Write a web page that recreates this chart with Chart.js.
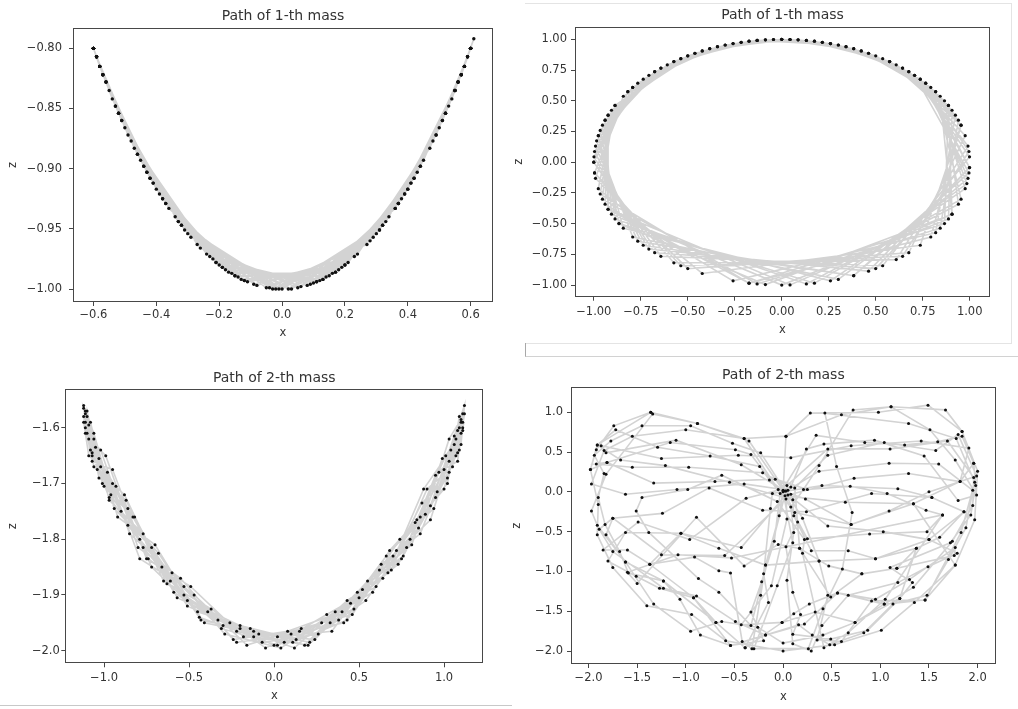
<!DOCTYPE html>
<html>
<head>
<meta charset="utf-8">
<script src="https://cdn.jsdelivr.net/npm/chart.js@4.4.1/dist/chart.umd.min.js"></script>
<style>
  body { margin: 0; background: #fff; width: 1018px; height: 709px; position: relative; overflow: hidden; }
  canvas { position: absolute; }
  .rule { position: absolute; box-sizing: border-box; }
</style>
</head>
<body>
<div class="rule" style="left:525px;top:3px;width:487px;height:341px;border-top:1px solid #e4e4e4;border-right:1px solid #e4e4e4;border-bottom:1px solid #e4e4e4;"></div>
<div class="rule" style="left:525px;top:343px;width:493px;height:14px;border-left:1px solid #a8a8a8;border-bottom:1px solid #d2d2d2;"></div>
<div class="rule" style="left:0;top:705px;width:512px;height:1px;background:#c8c8c8;"></div>

<canvas id="pathSmall1" width="509" height="345" style="left:0;top:0"></canvas>
<canvas id="pathWild1" width="509" height="350" style="left:509px;top:0"></canvas>
<canvas id="pathSmall2" width="509" height="350" style="left:0;top:355px"></canvas>
<canvas id="pathWild2" width="509" height="350" style="left:509px;top:355px"></canvas>

<script>
// [x, z] positions, in path order

// top left: mass 1, small swings
var small1Path = [
  [-0.60,-0.800],[-0.52,-0.854],[-0.32,-0.947],[0.00,-1.000],[0.32,-0.947],[0.52,-0.854],[0.60,-0.800],
  [0.56,-0.828],[0.40,-0.917],[0.16,-0.987],[-0.16,-0.987],[-0.42,-0.908],[-0.58,-0.815],
  [-0.59,-0.807],[-0.46,-0.888],[-0.20,-0.980],[0.12,-0.993],[0.38,-0.925],[0.55,-0.835],
  [0.59,-0.807],[0.50,-0.866],[0.28,-0.960],[-0.04,-0.999],[-0.34,-0.940],[-0.53,-0.848],[-0.60,-0.800],
  [-0.57,-0.822],[-0.44,-0.898],[-0.18,-0.984],[0.14,-0.990],[0.40,-0.917],[0.57,-0.822],
  [0.60,-0.800],[0.48,-0.877],[0.24,-0.971],[-0.08,-0.997],[-0.36,-0.933],[-0.54,-0.842],
  [-0.60,-0.800],[-0.50,-0.866],[-0.26,-0.966],[0.06,-0.998],[0.34,-0.940],[0.54,-0.842],[0.61,-0.792],
  [0.58,-0.815],[0.42,-0.908],[0.18,-0.984],[-0.14,-0.990],[-0.40,-0.917],[-0.58,-0.815],
  [-0.59,-0.807],[-0.48,-0.877],[-0.22,-0.975],[0.10,-0.995],[0.36,-0.933],[0.56,-0.828],
  [0.60,-0.800],[0.51,-0.860],[0.30,-0.954],[-0.02,-1.000],[-0.32,-0.947],[-0.51,-0.860],[-0.60,-0.800],
  [-0.56,-0.828],[-0.38,-0.925],[-0.12,-0.993],[0.20,-0.980],[0.44,-0.898],[0.58,-0.815],
  [0.59,-0.807],[0.45,-0.893],[0.20,-0.980],[-0.12,-0.993],[-0.38,-0.925],[-0.56,-0.828],
  [-0.60,-0.800],[-0.52,-0.854],[-0.30,-0.954],[0.02,-1.000],[0.32,-0.947],[0.52,-0.854],[0.60,-0.800],
  [0.55,-0.835],[0.36,-0.933],[0.08,-0.997],[-0.24,-0.971],[-0.46,-0.888],[-0.59,-0.807],
  [-0.58,-0.815],[-0.42,-0.908],[-0.15,-0.989],[0.17,-0.986],[0.42,-0.908],[0.58,-0.815],
  [0.57,-0.822],[0.43,-0.903],[0.19,-0.982],[-0.13,-0.992],[-0.39,-0.921],[-0.57,-0.822],
  [-0.60,-0.800],[-0.49,-0.872],[-0.27,-0.963],[0.05,-0.999],[0.33,-0.944],[0.53,-0.848],[0.60,-0.800],
  [0.57,-0.822],[0.41,-0.912],[0.17,-0.986],[-0.15,-0.989],[-0.41,-0.912],[-0.57,-0.822],
  [-0.59,-0.807],[-0.47,-0.883],[-0.23,-0.973],[0.09,-0.996],[0.37,-0.929],[0.55,-0.835],
  [0.60,-0.800],[0.49,-0.872],[0.27,-0.963],[-0.05,-0.999],[-0.33,-0.944],[-0.53,-0.848],[-0.60,-0.800],
  [-0.57,-0.822],[-0.43,-0.903],[-0.19,-0.982],[0.13,-0.992],[0.39,-0.921],[0.57,-0.822],
  [0.59,-0.807],[0.47,-0.883],[0.23,-0.973],[-0.09,-0.996],[-0.37,-0.929],[-0.55,-0.835],
  [-0.60,-0.800],[-0.51,-0.860],[-0.29,-0.957],[0.03,-1.000],[0.31,-0.951],[0.51,-0.860],[0.60,-0.800],
  [0.56,-0.828],[0.39,-0.921],[0.13,-0.992],[-0.19,-0.982],[-0.43,-0.903],[-0.58,-0.815],
  [-0.59,-0.807],[-0.45,-0.893],[-0.21,-0.978],[0.11,-0.994],[0.37,-0.929],[0.56,-0.828],
  [0.60,-0.800],[0.52,-0.854],[0.31,-0.951],[-0.01,-1.000],[-0.31,-0.951],[-0.52,-0.854],[-0.60,-0.800],
  [-0.58,-0.815],[-0.41,-0.912],[-0.17,-0.986],[0.15,-0.989],[0.41,-0.912],[0.58,-0.815],
  [0.58,-0.815],[0.44,-0.898],[0.21,-0.978],[-0.11,-0.994],[-0.37,-0.929],[-0.56,-0.828],
  [-0.60,-0.800],[-0.53,-0.848],[-0.33,-0.944],[-0.03,-1.000],[0.29,-0.957],[0.49,-0.872],[0.59,-0.807],
  [0.55,-0.835],[0.37,-0.929],[0.11,-0.994],[-0.21,-0.978],[-0.44,-0.898],[-0.59,-0.807]
];

// top right: mass 1, full turns round the pivot
var wild1Path = [
  [0.000,1.000],[0.423,0.906],[0.843,0.537],[0.906,-0.423],[-0.087,-0.996],[-0.866,-0.500],[-0.976,0.216],[-0.643,0.766],[-0.259,0.966],
  [0.131,0.991],[0.574,0.819],[0.954,0.301],[0.737,-0.676],[-0.423,-0.906],[-0.976,-0.216],[-0.887,0.462],[-0.500,0.866],[-0.131,0.991],
  [0.301,0.954],[0.707,0.707],[0.999,0.044],[0.537,-0.843],[-0.643,-0.766],[-1.000,0.000],[-0.793,0.609],[-0.383,0.924],[0.000,1.000],
  [0.423,0.906],[0.819,0.574],[0.976,-0.216],[0.259,-0.966],[-0.843,-0.537],[-0.976,0.216],[-0.676,0.737],[-0.301,0.954],[0.087,0.996],
  [0.500,0.866],[0.887,0.462],[0.866,-0.500],[-0.174,-0.985],[-0.924,-0.383],[-0.940,0.342],[-0.574,0.819],[-0.216,0.976],[0.174,0.985],
  [0.574,0.819],[0.924,0.383],[0.819,-0.574],[-0.259,-0.966],[-0.940,-0.342],[-0.924,0.383],[-0.537,0.843],[-0.174,0.985],[0.216,0.976],
  [0.643,0.766],[0.976,0.216],[0.676,-0.737],[-0.500,-0.866],[-0.991,-0.131],[-0.843,0.537],[-0.462,0.887],[-0.087,0.996],[0.259,0.966],
  [0.676,0.737],[0.991,0.131],[0.609,-0.793],[-0.574,-0.819],[-0.996,-0.087],[-0.819,0.574],[-0.423,0.906],[-0.044,0.999],[0.342,0.940],
  [0.737,0.676],[0.999,-0.044],[0.462,-0.887],[-0.707,-0.707],[-0.999,0.044],[-0.766,0.643],[-0.342,0.940],[0.044,0.999],[0.383,0.924],
  [0.766,0.643],[0.991,-0.131],[0.383,-0.924],[-0.766,-0.643],[-0.991,0.131],[-0.707,0.707],[-0.301,0.954],[0.087,0.996],[0.462,0.887],
  [0.793,0.609],[0.985,-0.174],[0.301,-0.954],[-0.793,-0.609],[-0.985,0.174],[-0.676,0.737],[-0.259,0.966],[0.131,0.991],[0.537,0.843],
  [0.866,0.500],[0.940,-0.342],[0.131,-0.991],[-0.887,-0.462],[-0.954,0.301],[-0.609,0.793],[-0.174,0.985],[0.216,0.976],[0.609,0.793],
  [0.906,0.423],[0.887,-0.462],[0.000,-1.000],[-0.906,-0.423],[-0.940,0.342],[-0.574,0.819],[-0.131,0.991],[0.259,0.966],[0.643,0.766],
  [0.940,0.342],[0.843,-0.537],[-0.131,-0.991],[-0.954,-0.301],[-0.906,0.423],[-0.500,0.866],[-0.087,0.996],[0.301,0.954],
  [0.707,0.707],[0.996,-0.087],[0.383,-0.924],[-0.737,-0.676],[-0.996,0.087],[-0.737,0.676],[-0.342,0.940],[0.044,0.999],[0.462,0.887],
  [0.819,0.574],[0.954,-0.301],[0.174,-0.985],[-0.866,-0.500],[-0.966,0.259],[-0.643,0.766],[-0.216,0.976],[0.174,0.985],[0.574,0.819],
  [0.887,0.462],[0.906,-0.423],[0.044,-0.999],[-0.924,-0.383],[-0.924,0.383],[-0.537,0.843],[-0.131,0.991],[0.259,0.966],[0.676,0.737],
  [0.954,0.301],[0.793,-0.609],[-0.174,-0.985],[-0.966,-0.259],[-0.887,0.462],[-0.462,0.887],[-0.044,0.999],[0.342,0.940],[0.737,0.676],
  [0.996,0.087],[0.643,-0.766],[-0.537,-0.843],[-0.996,-0.087],[-0.819,0.574],[-0.423,0.906],[0.000,1.000],[0.383,0.924],[0.766,0.643],
  [0.999,-0.044],[0.500,-0.866],[-0.676,-0.737],[-1.000,0.000],[-0.793,0.609],[-0.383,0.924],[0.044,0.999]
];

// bottom left: mass 2, small swings
var small2Path = [
  [-1.11,-1.59],[-1.04,-1.675],[-0.88,-1.72],[-0.63,-1.88],[-0.33,-1.945],[0.00,-1.99],[0.31,-1.935],[0.60,-1.885],[0.84,-1.765],[1.01,-1.65],[1.10,-1.61],
  [1.08,-1.66],[0.97,-1.68],[0.78,-1.815],[0.52,-1.89],[0.21,-1.985],[-0.12,-1.965],[-0.43,-1.945],[-0.70,-1.81],[-0.92,-1.76],[-1.06,-1.61],[-1.12,-1.565],
  [-1.09,-1.62],[-0.99,-1.65],[-0.80,-1.815],[-0.55,-1.87],[-0.24,-1.98],[0.08,-1.965],[0.40,-1.93],[0.67,-1.86],[0.88,-1.71],[1.04,-1.64],[1.11,-1.575],
  [1.09,-1.60],[1.00,-1.71],[0.83,-1.77],[0.58,-1.895],[0.28,-1.95],[-0.05,-1.995],[-0.37,-1.925],[-0.65,-1.875],[-0.87,-1.73],[-1.03,-1.69],[-1.10,-1.58],
  [-1.07,-1.65],[-0.95,-1.70],[-0.74,-1.835],[-0.47,-1.90],[-0.16,-1.99],[0.16,-1.96],[0.46,-1.935],[0.72,-1.82],[0.92,-1.74],[1.06,-1.615],[1.12,-1.56],
  [1.10,-1.63],[1.03,-1.66],[0.86,-1.79],[0.63,-1.845],[0.34,-1.965],[0.02,-1.975],[-0.30,-1.955],[-0.59,-1.895],[-0.83,-1.76],[-1.00,-1.705],[-1.09,-1.595],
  [-1.11,-1.61],[-1.02,-1.64],[-0.85,-1.79],[-0.60,-1.86],[-0.29,-1.97],[0.04,-1.995],[0.36,-1.93],[0.64,-1.87],[0.87,-1.735],[1.02,-1.69],[1.11,-1.59],
  [1.07,-1.62],[0.94,-1.745],[0.74,-1.80],[0.47,-1.925],[0.15,-1.965],[-0.18,-1.975],[-0.49,-1.885],[-0.75,-1.835],[-0.95,-1.675],[-1.07,-1.66],[-1.12,-1.58],
  [-1.08,-1.59],[-0.97,-1.73],[-0.77,-1.79],[-0.51,-1.92],[-0.20,-1.96],[0.12,-1.995],[0.43,-1.91],[0.69,-1.855],[0.90,-1.71],[1.05,-1.67],[1.12,-1.575],
  [1.09,-1.64],[0.99,-1.655],[0.81,-1.81],[0.55,-1.875],[0.24,-1.98],[-0.09,-1.97],[-0.41,-1.95],[-0.68,-1.825],[-0.90,-1.75],[-1.05,-1.635],[-1.11,-1.60],
  [-1.10,-1.57],[-1.01,-1.70],[-0.82,-1.76],[-0.57,-1.905],[-0.26,-1.95],[0.06,-1.985],[0.38,-1.945],[0.66,-1.83],[0.89,-1.755],[1.03,-1.62],[1.10,-1.585],
  [1.08,-1.605],[0.96,-1.715],[0.76,-1.83],[0.49,-1.895],[0.18,-1.99],[-0.14,-1.96],[-0.45,-1.93],[-0.72,-1.85],[-0.93,-1.705],[-1.06,-1.67],[-1.11,-1.57],
  [-1.06,-1.62],[-0.94,-1.745],[-0.72,-1.815],[-0.44,-1.94],[-0.12,-1.975],[0.20,-1.99],[0.50,-1.905],[0.75,-1.835],[0.95,-1.685],[1.07,-1.65],[1.11,-1.60],
  [1.06,-1.63],[0.92,-1.765],[0.70,-1.83],[0.43,-1.945],[0.11,-1.985],[-0.22,-1.965],[-0.53,-1.90],[-0.79,-1.80],[-0.97,-1.725],[-1.08,-1.64],[-1.12,-1.59],
  [-1.09,-1.65],[-0.98,-1.68],[-0.79,-1.835],[-0.53,-1.885],[-0.22,-1.985],[0.10,-1.97],[0.41,-1.95],[0.68,-1.82],[0.86,-1.76],[1.02,-1.70],[1.09,-1.58],
  [1.10,-1.59],[1.00,-1.675],[0.80,-1.80],[0.54,-1.91],[0.26,-1.97],[-0.07,-1.985],[-0.39,-1.93],[-0.66,-1.85],[-0.86,-1.775],[-1.02,-1.67],[-1.10,-1.61],
  [-1.11,-1.575],[-1.03,-1.655],[-0.86,-1.745],[-0.61,-1.875],[-0.31,-1.96],[0.02,-1.99],[0.33,-1.95],[0.62,-1.855],[0.85,-1.78],[1.03,-1.68],[1.11,-1.605],
  [1.08,-1.645],[0.95,-1.725],[0.73,-1.845],[0.45,-1.915],[0.13,-1.98],[-0.20,-1.955],[-0.51,-1.91],[-0.77,-1.815],[-0.96,-1.72],[-1.07,-1.645],[-1.12,-1.56]
];

// bottom right: mass 2, chaotic
var wild2Path = [
  [-1.36,1.00],[-1.74,0.83],[-1.92,0.53],[-1.98,0.28],[-1.90,-0.16],[-1.91,-0.54],[-1.75,-0.95],[-1.40,-1.43],[-0.94,-1.54],[-0.59,-1.87],
  [0.00,-2.00],[0.53,-1.92],[1.01,-1.74],[1.35,-1.39],[1.77,-0.92],[1.97,-0.35],[2.00,0.26],[1.84,0.76],[1.49,1.09],[0.98,1.00],
  [0.28,0.99],[0.03,0.70],[0.00,0.00],
  [0.10,-0.64],[-0.06,-1.18],[-0.30,-1.97],[0.26,-1.97],[0.41,-1.47],[0.61,-0.97],[0.71,-0.26],[0.55,0.32],[0.43,0.99],[1.29,0.86],
  [1.78,0.67],[1.97,0.12],[1.83,-0.51],[1.46,-1.36],[0.91,-1.37],[0.60,-1.88],[0.35,-1.86],[0.46,-1.30],[0.37,-0.87],[0.20,-0.33],[0.05,-0.04],
  [-0.23,0.49],[-0.52,0.61],[-0.95,0.83],[-1.45,0.83],[-1.77,0.64],[-1.94,0.46],[-1.84,0.23],[-1.90,-0.07],[-1.83,-0.41],[-1.68,-0.75],
  [-1.59,-1.02],[-1.23,-1.12],[-1.06,-1.35],[-0.85,-1.80],[-0.54,-1.93],[-0.20,-1.87],[-0.33,-1.51],[-0.22,-1.13],[-0.09,-0.62],[-0.03,-0.02],
  [0.34,0.71],[0.84,0.62],[1.25,0.59],[1.59,0.63],[1.84,0.70],[1.96,0.36],[1.98,0.08],[1.93,-0.29],[1.72,-0.64],[1.10,-0.95],
  [1.33,-1.14],[1.20,-1.34],[0.87,-1.74],[0.49,-1.85],[0.10,-1.79],[0.18,-1.54],[0.10,-1.26],[0.03,-0.69],[0.15,-0.38],[0.02,0.01],
  [-0.43,0.34],[-1.10,0.65],[-1.82,0.49],[-1.87,0.58],[-1.25,0.42],[-0.46,0.46],[0.08,0.43],[0.70,0.58],[1.42,0.64],[1.91,0.55],
  [1.82,0.13],[1.34,-0.15],[0.64,-0.13],[0.02,-0.05],
  [-0.43,-0.70],[-1.05,-0.52],[-1.62,-0.51],[-1.80,-0.87],[-1.51,-1.06],[-1.27,-1.21],[-0.92,-1.33],[-0.69,-1.64],[-0.39,-1.96],[-0.15,-1.39],
  [-0.20,-1.03],[-0.13,-0.21],[-0.11,-0.02],
  [0.40,0.08],[1.18,0.04],[1.53,-0.07],[1.86,-0.25],[1.61,-0.57],[1.37,-0.71],[0.95,-0.84],[0.67,-0.74],[0.29,-0.74],[0.11,-0.30],[0.10,-0.10],
  [-0.55,0.12],[-1.21,0.33],[-1.67,0.40],[-1.91,0.59],[-1.72,0.78],[-1.29,0.56],[-0.75,0.45],[-0.24,0.32],[-0.14,0.15],
  [0.46,-0.43],[1.03,-0.50],[1.50,-0.60],[1.79,-0.77],[1.49,-0.94],[1.18,-1.14],[0.67,-1.30],[0.40,-1.68],[0.29,-2.00],[0.10,-1.91],
  [0.04,-1.11],[0.11,-0.51],[0.08,-0.19],
  [0.21,0.03],[0.37,0.33],[0.72,1.03],[1.11,1.07],[1.51,0.78],[1.77,0.40],[1.99,-0.04],[1.80,-0.11],[1.45,0.45],[0.94,0.65],
  [0.42,0.60],[0.24,0.54],[0.08,0.06],
  [-0.38,-0.08],[-0.96,-0.60],[-1.49,-0.38],[-1.85,-0.73],[-1.60,-0.73],[-1.37,-0.91],[-0.91,-0.82],[-0.66,-0.99],[-0.54,-1.02],[-0.42,-1.88],
  [-0.32,-1.97],[-0.23,-1.30],[-0.18,-0.92],[-0.04,-0.30],[0.00,0.02],
  [-0.35,0.64],[-0.88,0.86],[-1.34,0.98],[-1.82,0.22],[-1.97,-0.24],[-1.91,-0.42],[-1.62,-0.88],[-1.33,-1.41],[-0.95,-1.75],[-0.63,-1.63],
  [-0.26,-1.70],[0.00,-1.90],[0.41,-1.80],[0.74,-1.64],[1.04,-1.41],[1.34,-1.20],[1.74,-0.62],[1.95,-0.17],[1.96,0.18],[1.69,0.64],
  [1.10,0.54],[0.46,0.54],[0.04,0.08],
  [-0.21,0.24],[-0.97,0.31],[-1.55,0.31],[-1.92,0.35],[-1.81,0.37],[-1.33,0.11],[-0.70,0.13],[-0.08,0.16],
  [0.25,0.03],[0.69,0.07],[1.07,-0.02],[1.47,-0.23],[1.64,-0.29],[1.48,-0.50],[0.89,-0.53],[0.25,-0.59],[0.03,-0.09],
  [-0.60,-0.80],[-1.25,-0.79],[-1.75,-0.33],[-1.89,-0.47],[-1.75,-0.75],[-1.23,-1.21],[-0.89,-1.31],[-0.49,-1.63],[-0.18,-1.80],[0.16,-1.67],
  [0.30,-1.80],[0.48,-1.92],[0.83,-1.77],[1.13,-1.41],[1.48,-1.30],[1.70,-0.85],[1.88,-0.45],[1.95,0.02],[1.60,0.35],[1.09,0.36],
  [0.37,0.26],[0.05,0.02],
  [-0.40,0.10],[-1.09,0.03],[-1.62,-0.03],[-1.97,0.10],[-1.84,0.52],[-1.55,0.70],[-1.00,0.78],[-0.40,0.67],[-0.05,0.03],
  [0.23,-0.09],[0.70,-0.41],[1.09,-0.24],[1.50,0.00],[1.99,0.20],[1.80,0.72],[1.57,0.52],[1.04,0.62],[0.46,0.46],[0.12,0.05],
  [0.17,-0.71],[0.47,-0.93],[0.81,-1.03],[1.17,-0.96],[1.76,-0.80],[1.77,-0.70],[1.30,-1.10],[0.95,-1.35],[0.56,-1.27],[0.27,-1.41],
  [0.11,-1.53],[-0.01,-1.64],[-0.43,-1.67],[-0.12,-1.18],[0.04,-0.34],[0.03,0.01],
  [-0.33,-1.68],[-0.66,-1.26],[-0.87,-1.09],[-1.38,-0.51],[-1.51,-0.24],[-1.45,-0.07],[-0.98,0.03],[-0.63,0.21],[-0.06,-0.12],
  [0.22,-0.60],[0.20,-0.77],[0.42,-1.96],[0.67,-1.77],[1.05,-1.35],[1.64,-0.29],
  [-0.53,-0.83],[-1.08,-0.79],[-1.60,-1.01],[-1.50,-1.15],[-0.89,-0.32],[-0.40,-0.93],[-0.05,-0.66],[0.17,-0.71],[0.49,-1.32],[0.81,-1.03],
  [1.17,-0.96],[1.37,-0.71],
  [1.20,-1.34],[0.74,-1.64],[0.33,-1.51],[-0.01,-1.64],[-0.39,-1.96],[-0.69,-1.64],[-1.23,-1.12],[-1.62,-0.88],[-1.82,-0.54],[-1.75,-0.33],
  [-1.24,-0.27],[-0.76,0.05],[-0.21,-0.23],[0.24,-0.25],[0.91,-0.02],[1.53,-0.07],[1.86,-0.25],[1.50,-0.60],[0.95,-0.84],[0.37,-0.87],
  [-0.18,-0.92],[-0.66,-0.71],[-1.05,-0.52],[-1.37,-0.91],[-0.92,-1.33],[-0.54,-1.93],[-0.18,-1.80],[0.22,-1.66],[0.56,-1.27],[1.04,-1.41],
  [1.46,-1.36],[1.77,-0.92],
  [1.34,-0.15],[0.70,-0.41],[0.12,-0.26],[-0.33,0.47],[-0.49,0.53],[-1.16,0.62],[-1.81,0.37],[-1.98,0.28],[-1.91,0.59],[-1.36,1.00],
  [-0.88,0.86],[-0.40,0.67],[0.03,0.70],[0.60,0.97],[1.11,1.07],[1.67,1.03],[1.84,0.76],[1.96,0.36],[1.82,0.13],[1.29,0.23],
  [0.73,0.17],[0.08,-0.03]
];

// tick values
var small1XTicks = [-0.6, -0.4, -0.2, 0.0, 0.2, 0.4, 0.6];
var small1ZTicks = [-1.00, -0.95, -0.90, -0.85, -0.80];
var wild1XTicks = [-1.00, -0.75, -0.50, -0.25, 0.00, 0.25, 0.50, 0.75, 1.00];
var wild1ZTicks = [-1.00, -0.75, -0.50, -0.25, 0.00, 0.25, 0.50, 0.75, 1.00];
var small2XTicks = [-1.0, -0.5, 0.0, 0.5, 1.0];
var small2ZTicks = [-2.0, -1.9, -1.8, -1.7, -1.6];
var wild2XTicks = [-2.0, -1.5, -1.0, -0.5, 0.0, 0.5, 1.0, 1.5, 2.0];
var wild2ZTicks = [-2.0, -1.5, -1.0, -0.5, 0.0, 0.5, 1.0];

var FONT = '"DejaVu Sans", "Liberation Sans", sans-serif';
var TEXT = '#333333';
var SPINE = '#474747';

// matplotlib draws a box round the axes; chart.js only has the two axis lines
var boxPlugin = {
  id: 'axesBox',
  afterDraw: function(chart) {
    var a = chart.chartArea;
    var ctx = chart.ctx;
    ctx.save();
    ctx.strokeStyle = SPINE;
    ctx.lineWidth = 1;
    ctx.strokeRect(Math.round(a.left) + 0.5, Math.round(a.top) + 0.5,
      Math.round(a.right) - Math.round(a.left) - 1, Math.round(a.bottom) - Math.round(a.top) - 1);
    ctx.restore();
  }
};

function label(decimals) {
  return function(v) {
    return v.toFixed(decimals).replace('-', '\u2212');
  };
}

function drawPath(id, title, path, xTicks, zTicks, lay) {
  var canvas = document.getElementById(id);
  new Chart(canvas.getContext('2d'), {
    type: 'scatter',
    data: {
      datasets: [
        {
          data: path,
          showLine: true,
          borderColor: '#d3d3d3',
          borderWidth: 1.6,
          pointRadius: lay.dot,
          pointHoverRadius: lay.dot,
          pointBackgroundColor: '#111111',
          pointBorderWidth: 0
        }
      ]
    },
    options: {
      responsive: false,
      animation: false,
      events: [],
      layout: { padding: { left: 0, top: 0, right: lay.right, bottom: 0 } },
      plugins: {
        legend: { display: false },
        tooltip: { enabled: false },
        title: {
          display: true,
          text: title,
          fullSize: false,
          color: TEXT,
          font: { family: FONT, size: 14, weight: 'normal' },
          padding: { top: lay.titleTop, bottom: lay.titleBottom }
        }
      },
      scales: {
        x: {
          type: 'linear',
          min: lay.xMin,
          max: lay.xMax,
          afterBuildTicks: function(scale) {
            scale.ticks = xTicks.map(function(v) { return { value: v }; });
          },
          afterFit: function(scale) { scale.height = lay.xHeight; },
          ticks: { callback: label(lay.xDec), color: TEXT, font: { family: FONT, size: 11.5 }, padding: lay.xPad, autoSkip: false, maxRotation: 0 },
          grid: { display: true, drawOnChartArea: false, drawTicks: true, tickLength: 4, tickColor: SPINE },
          border: { display: false },
          title: { display: true, text: 'x', color: TEXT, font: { family: FONT, size: 11.5 }, padding: { top: 0, bottom: lay.xTitlePad } }
        },
        y: {
          type: 'linear',
          min: lay.zMin,
          max: lay.zMax,
          afterBuildTicks: function(scale) {
            scale.ticks = zTicks.map(function(v) { return { value: v }; });
          },
          afterFit: function(scale) { scale.width = lay.zWidth; },
          ticks: { callback: label(lay.zDec), color: TEXT, font: { family: FONT, size: 11.5 }, padding: lay.zPad, autoSkip: false },
          grid: { display: true, drawOnChartArea: false, drawTicks: true, tickLength: 4, tickColor: SPINE },
          border: { display: false },
          title: { display: true, text: 'z', color: TEXT, font: { family: FONT, size: 11.5 }, padding: { top: lay.zTitlePad, bottom: 0 } }
        }
      }
    },
    plugins: [boxPlugin]
  });
}

document.addEventListener('DOMContentLoaded', function() {
  drawPath('pathSmall1', 'Path of 1-th mass', small1Path, small1XTicks, small1ZTicks, {
    xMin: -0.665, xMax: 0.671, zMin: -1.0108, zMax: -0.7831, xDec: 1, zDec: 2,
    right: 16, titleTop: 7.6, titleBottom: 3.6, xHeight: 43, xPad: 2, xTitlePad: 5,
    zWidth: 73, zPad: 7, zTitlePad: 5.8, dot: 1.7
  });
  drawPath('pathWild1', 'Path of 1-th mass', wild1Path, wild1XTicks, wild1ZTicks, {
    xMin: -1.10, xMax: 1.108, zMin: -1.095, zMax: 1.103, xDec: 2, zDec: 2,
    right: 28, titleTop: 6.6, titleBottom: 3.3, xHeight: 53.3, xPad: 4.6, xTitlePad: 13.1,
    zWidth: 66, zPad: 4, zTitlePad: 3.1, dot: 1.6
  });
  drawPath('pathSmall2', 'Path of 2-th mass', small2Path, small2XTicks, small2ZTicks, {
    xMin: -1.228, xMax: 1.231, zMin: -2.0226, zMax: -1.531, xDec: 1, zDec: 1,
    right: 25.7, titleTop: 14.9, titleBottom: 2.6, xHeight: 41.7, xPad: 3.4, xTitlePad: 2.4,
    zWidth: 65.3, zPad: 1.5, zTitlePad: 6.4, dot: 1.5
  });
  drawPath('pathWild2', 'Path of 2-th mass', wild2Path, wild2XTicks, wild2ZTicks, {
    xMin: -2.18, xMax: 2.186, zMin: -2.163, zMax: 1.314, xDec: 1, zDec: 1,
    right: 22.3, titleTop: 11.6, titleBottom: 3.9, xHeight: 41, xPad: 3.3, xTitlePad: 1.4,
    zWidth: 62, zPad: 4, zTitlePad: 1.4, dot: 1.5
  });
});
</script>
</body>
</html>
